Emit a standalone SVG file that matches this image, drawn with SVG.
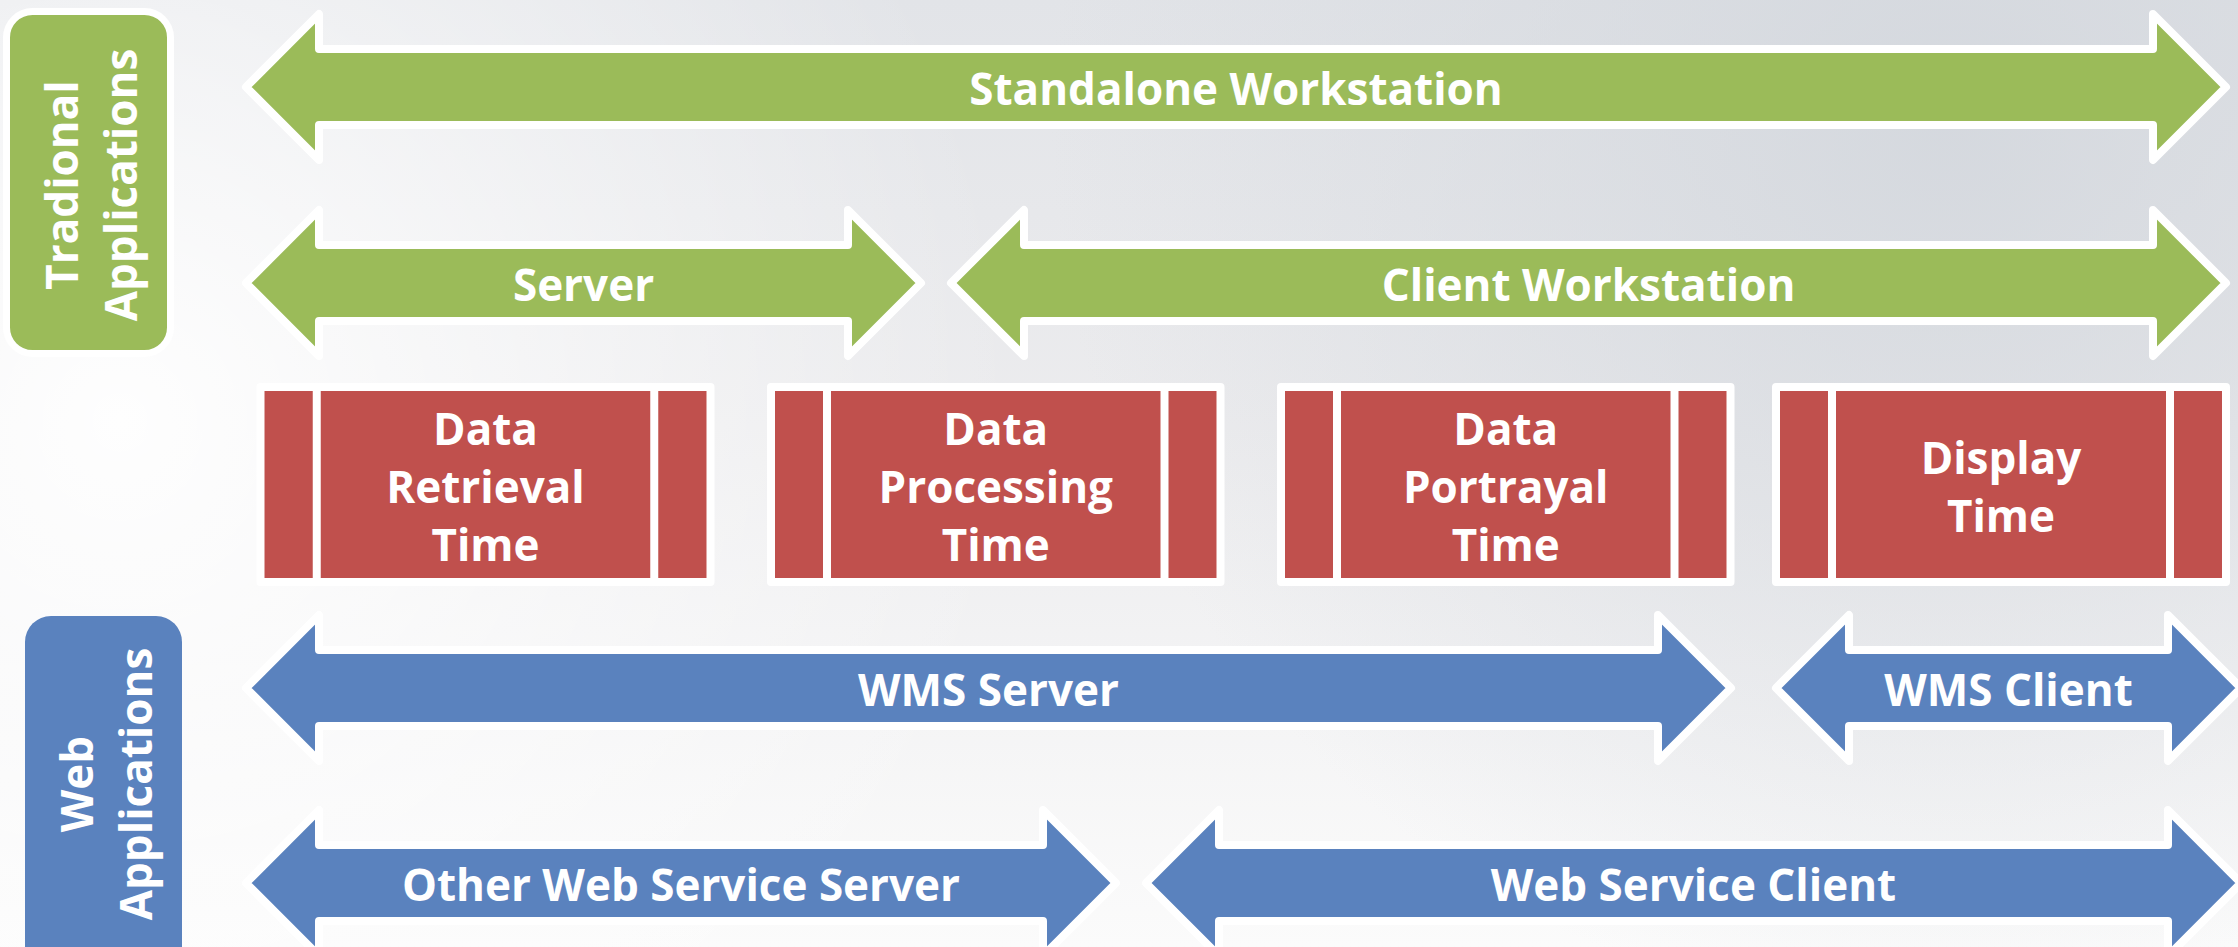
<svg xmlns="http://www.w3.org/2000/svg" width="2238" height="947" viewBox="0 0 2238 947">
  <defs>
    <linearGradient id="bgV" x1="0" y1="0" x2="0" y2="1">
      <stop offset="0" stop-color="#e2e4e8"/>
      <stop offset="0.45" stop-color="#ececee"/>
      <stop offset="1" stop-color="#fbfbfb"/>
    </linearGradient>
    <radialGradient id="bgDark" cx="1950" cy="120" r="900" gradientUnits="userSpaceOnUse">
      <stop offset="0" stop-color="#d3d7dd" stop-opacity="0.9"/>
      <stop offset="1" stop-color="#d3d7dd" stop-opacity="0"/>
    </radialGradient>
    <radialGradient id="bgLight" cx="120" cy="420" r="900" gradientUnits="userSpaceOnUse">
      <stop offset="0" stop-color="#ffffff" stop-opacity="0.95"/>
      <stop offset="1" stop-color="#ffffff" stop-opacity="0"/>
    </radialGradient>
    <style>
      .ag { fill: #9BBB59; stroke: #ffffff; stroke-width: 8; stroke-linejoin: round; }
      .ab { fill: #5A82BE; stroke: #ffffff; stroke-width: 8; stroke-linejoin: round; }
      .proc { fill: #C0504D; stroke: #ffffff; stroke-width: 8; stroke-linejoin: round; }
      .div { stroke: #ffffff; stroke-width: 8; }
      .t { font-family: "Open Sans", "DejaVu Sans", sans-serif; font-weight: 700; fill: #ffffff; text-anchor: middle; font-size: 44px; }
    </style>
  </defs>

  <g id="background">
    <rect x="0" y="0" width="2238" height="947" fill="url(#bgV)"/>
    <rect x="0" y="0" width="2238" height="947" fill="url(#bgDark)"/>
    <rect x="0" y="0" width="2238" height="947" fill="url(#bgLight)"/>
  </g>

  <g id="label-traditional">
    <rect x="6.5" y="11.5" width="164" height="342" rx="26" fill="#9BBB59" stroke="#ffffff" stroke-width="7"/>
    <text class="t" transform="translate(78,185) rotate(-90)">Tradional</text>
    <text class="t" transform="translate(137,185) rotate(-90)">Applications</text>
  </g>

  <g id="label-web">
    <rect x="25" y="616" width="157" height="360" rx="26" fill="#5A82BE"/>
    <text class="t" transform="translate(93,784) rotate(-90)">Web</text>
    <text class="t" transform="translate(152,784) rotate(-90)">Applications</text>
  </g>

  <g id="connectors">
    <g id="arrow-standalone">
      <path class="ag" d="M246,87 L319,14 L319,49 L2153,49 L2153,14 L2226,87 L2153,160 L2153,125 L319,125 L319,160 Z"/>
      <text class="t" x="1236" y="105">Standalone Workstation</text>
    </g>
    <g id="arrow-server">
      <path class="ag" d="M246,283 L319,210 L319,245 L848,245 L848,210 L921,283 L848,356 L848,321 L319,321 L319,356 Z"/>
      <text class="t" x="583.5" y="301">Server</text>
    </g>
    <g id="arrow-client-workstation">
      <path class="ag" d="M951,283 L1024,210 L1024,245 L2153,245 L2153,210 L2226,283 L2153,356 L2153,321 L1024,321 L1024,356 Z"/>
      <text class="t" x="1588.5" y="301">Client Workstation</text>
    </g>
    <g id="arrow-wms-server">
      <path class="ab" d="M246,688 L319,615 L319,650 L1658,650 L1658,615 L1731,688 L1658,761 L1658,726 L319,726 L319,761 Z"/>
      <text class="t" x="988.5" y="706">WMS Server</text>
    </g>
    <g id="arrow-wms-client">
      <path class="ab" d="M1776,688 L1849,615 L1849,650 L2168,650 L2168,615 L2241,688 L2168,761 L2168,726 L1849,726 L1849,761 Z"/>
      <text class="t" x="2008.5" y="706">WMS Client</text>
    </g>
    <g id="arrow-other-ws-server">
      <path class="ab" d="M246,883 L319,810 L319,845 L1043,845 L1043,810 L1116,883 L1043,956 L1043,921 L319,921 L319,956 Z"/>
      <text class="t" x="681" y="901">Other Web Service Server</text>
    </g>
    <g id="arrow-ws-client">
      <path class="ab" d="M1146,883 L1219,810 L1219,845 L2168,845 L2168,810 L2241,883 L2168,956 L2168,921 L1219,921 L1219,956 Z"/>
      <text class="t" x="1693.5" y="901">Web Service Client</text>
    </g>
  </g>

  <g id="box-retrieval">
    <rect class="proc" x="260.5" y="387" width="450" height="195"/>
    <line class="div" x1="316.75" y1="387" x2="316.75" y2="582"/>
    <line class="div" x1="654.25" y1="387" x2="654.25" y2="582"/>
    <text class="t" x="485.5" y="445">Data</text>
    <text class="t" x="485.5" y="503">Retrieval</text>
    <text class="t" x="485.5" y="561">Time</text>
  </g>

  <g id="box-processing">
    <rect class="proc" x="771" y="387" width="449.5" height="195"/>
    <line class="div" x1="827" y1="387" x2="827" y2="582"/>
    <line class="div" x1="1164.5" y1="387" x2="1164.5" y2="582"/>
    <text class="t" x="995.75" y="445">Data</text>
    <text class="t" x="995.75" y="503">Processing</text>
    <text class="t" x="995.75" y="561">Time</text>
  </g>

  <g id="box-portrayal">
    <rect class="proc" x="1281" y="387" width="449.5" height="195"/>
    <line class="div" x1="1337" y1="387" x2="1337" y2="582"/>
    <line class="div" x1="1674.5" y1="387" x2="1674.5" y2="582"/>
    <text class="t" x="1505.75" y="445">Data</text>
    <text class="t" x="1505.75" y="503">Portrayal</text>
    <text class="t" x="1505.75" y="561">Time</text>
  </g>

  <g id="box-display">
    <rect class="proc" x="1776" y="387" width="450" height="195"/>
    <line class="div" x1="1832" y1="387" x2="1832" y2="582"/>
    <line class="div" x1="2170" y1="387" x2="2170" y2="582"/>
    <text class="t" x="2001" y="474">Display</text>
    <text class="t" x="2001" y="532">Time</text>
  </g>
</svg>
